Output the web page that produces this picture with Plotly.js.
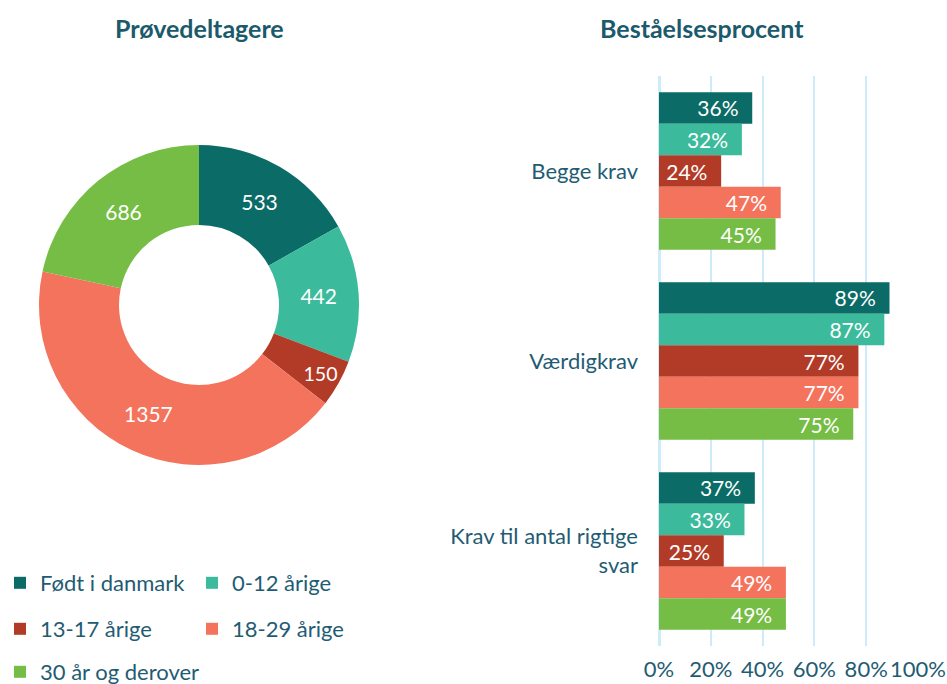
<!DOCTYPE html>
<html><head><meta charset="utf-8">
<script src="https://cdn.plot.ly/plotly-3.0.1.min.js"></script>
<style>html,body{margin:0;padding:0;background:#fff;overflow:hidden}#chart{width:947px;height:684px}</style>
</head><body><div id="chart"></div>
<script>
// Data
const groups = ['Født i danmark', '0-12 årige', '13-17 årige', '18-29 årige', '30 år og derover'];
const participants = [533, 442, 150, 1357, 686];
const requirements = ['Begge krav', 'Værdigkrav', 'Krav til antal rigtige<br>svar'];
const passFodt = [36, 89, 37];
const pass0012 = [32, 87, 33];
const pass1317 = [24, 77, 25];
const pass1829 = [47, 77, 49];
const pass30 = [45, 75, 49];
const xTicks = [0, 20, 40, 60, 80, 100];
const xTickLabels = ['0%', '20%', '40%', '60%', '80%', '100%'];

const colors = ['#0b6b67', '#3bbb9c', '#b23b27', '#f4735d', '#75bd44'];
const txt = '#1f5c73';
const FONT = 'Lato, "Open Sans", sans-serif';
const W = 947, H = 684;

const passSeries = [passFodt, pass0012, pass1317, pass1829, pass30];
const legendIds = ['legend', 'legend', 'legend2', 'legend2', 'legend3'];

const traces = [{
  type: 'pie', hole: 0.5, sort: false, direction: 'clockwise', rotation: 0,
  labels: groups, values: participants,
  marker: {colors: colors, line: {width: 0}},
  textinfo: 'value', textposition: 'inside', insidetextorientation: 'horizontal',
  textfont: {color: '#ffffff', size: 21, family: FONT},
  domain: {x: [39 / W, 359 / W], y: [1 - 465 / H, 1 - 145 / H]},
  showlegend: false, hoverinfo: 'label+value'
}];

passSeries.forEach((s, i) => {
  traces.push({
    type: 'bar', orientation: 'h', name: groups[i],
    x: s, y: requirements,
    marker: {color: colors[i], line: {width: 0}},
    texttemplate: '%{x}%\u00a0\u00a0', textposition: 'inside', insidetextanchor: 'end',
    textfont: {color: '#ffffff', size: 21, family: FONT},
    legend: legendIds[i], xaxis: 'x', yaxis: 'y'
  });
});

const legendBase = {
  orientation: 'h', xanchor: 'left', yanchor: 'middle', x: 0,
  font: {size: 22, color: txt, family: FONT}, entrywidth: 147, entrywidthmode: 'pixels',
  bgcolor: 'rgba(0,0,0,0)', traceorder: 'normal', itemclick: false
};

const layout = {
  width: W, height: H,
  margin: {l: 0, r: 0, t: 0, b: 0, autoexpand: false},
  paper_bgcolor: '#ffffff', plot_bgcolor: '#ffffff',
  font: {family: FONT, color: txt},
  barmode: 'group', bargap: 0.17, bargroupgap: 0,
  xaxis: {
    domain: [659 / W, 918 / W], range: [0, 100], fixedrange: true,
    tickvals: xTicks, ticktext: xTickLabels,
    showgrid: true, gridcolor: '#cdebf8', gridwidth: 2,
    zeroline: true, zerolinecolor: '#cdebf8', zerolinewidth: 3,
    showline: false, ticks: '', ticklabelstandoff: 8,
    tickfont: {size: 22, color: txt, family: FONT}
  },
  yaxis: {
    domain: [1 - 646 / H, 1 - 76 / H], autorange: 'reversed', fixedrange: true,
    showgrid: false, zeroline: false, showline: false, ticks: '',
    ticklabelstandoff: 20,
    tickfont: {size: 22, color: txt, family: FONT}
  },
  legend: Object.assign({}, legendBase, {y: 1 - 583 / H}),
  legend2: Object.assign({}, legendBase, {y: 1 - 629 / H}),
  legend3: Object.assign({}, legendBase, {y: 1 - 672 / H, entrywidth: 260}),
  annotations: [
    {text: '<b>Prøvedeltagere</b>', x: 199 / W, y: 1 - 28 / H, xref: 'paper', yref: 'paper',
     xanchor: 'center', yanchor: 'middle',
     showarrow: false, font: {size: 25, color: '#1b5a6c', family: FONT}},
    {text: '<b>Beståelsesprocent</b>', x: 702 / W, y: 1 - 28 / H, xref: 'paper', yref: 'paper',
     xanchor: 'center', yanchor: 'middle',
     showarrow: false, font: {size: 25, color: '#1b5a6c', family: FONT}}
  ]
};

Plotly.newPlot('chart', traces, layout, {displayModeBar: false, staticPlot: false});
</script></body></html>
